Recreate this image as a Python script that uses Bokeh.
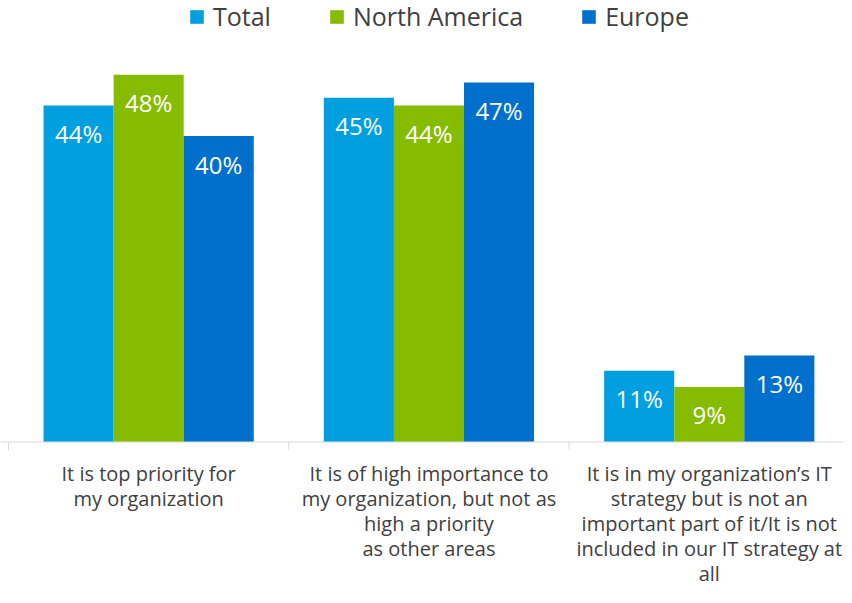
from bokeh.plotting import figure
from bokeh.models import ColumnDataSource, Legend, LegendItem, Range1d, Span
from bokeh.transform import dodge
from bokeh.core.properties import value
from bokeh.embed import file_html
from bokeh.resources import INLINE

# ---- data ----
categories = [
    ["It is top priority for", "my organization"],
    ["It is of high importance to", "my organization, but not as", "high a priority", "as other areas"],
    ["It is in my organization\u2019s IT", "strategy but is not an", "important part of it/It is not",
     "included in our IT strategy at", "all"],
]
series = ["Total", "North America", "Europe"]
total = [44, 45, 9.3]
north_america = [48, 44, 7.2]
europe = [40, 47, 11.3]
total_labels = ["44%", "45%", "11%"]
north_america_labels = ["48%", "44%", "9%"]
europe_labels = ["40%", "47%", "13%"]
category_ticks = [0, 1, 2, 3]
colors = ["#009FDF", "#86BC00", "#0070CC"]

FONT = "Open Sans"
TXT = "#404040"

W, H = 844, 587
PX_X = 280.3          # px per category
PX_Y = 7.65           # px per percent
AXIS_X0 = 8           # px of first category boundary
AXIS_Y = 441.5        # px from top of figure

xc = [i + 0.5 for i in range(len(categories))]

p = figure(width=W, height=H, output_backend="svg", toolbar_location=None,
           x_range=Range1d(-AXIS_X0 / PX_X, (W - AXIS_X0) / PX_X),
           y_range=Range1d(-(H - AXIS_Y) / PX_Y, AXIS_Y / PX_Y),
           min_border_left=0, min_border_right=0, min_border_top=0, min_border_bottom=0)
p.outline_line_color = None
p.xgrid.visible = False
p.ygrid.visible = False
p.xaxis.visible = False
p.yaxis.visible = False
p.background_fill_color = "white"
p.border_fill_color = "white"

renderers = []
offsets = [-0.25, 0.0, 0.25]
for name, vals, labs, col, off in zip(series, [total, north_america, europe],
                                      [total_labels, north_america_labels, europe_labels],
                                      colors, offsets):
    src = ColumnDataSource(dict(x=xc, top=vals, lab=labs))
    r = p.vbar(x=dodge("x", off, range=p.x_range), top="top", bottom=0, width=0.25, source=src,
               fill_color=col, line_color=None)
    renderers.append(r)
    p.text(x=dodge("x", off, range=p.x_range), y="top", text="lab", source=src,
           text_color="white", text_font=value(FONT), text_font_size="24px",
           text_align="center", text_baseline="middle", y_offset=28)

# category axis line and tick marks
p.add_layout(Span(location=0, dimension="width", line_color="#D9D9D9", line_width=1))
p.segment(x0=category_ticks, x1=category_ticks, y0=[0] * 4, y1=[-8 / PX_Y] * 4,
          line_color="#D9D9D9", line_width=1)

# category labels below the axis
lx, ly, lt = [], [], []
for i, lines in enumerate(categories):
    for j, line in enumerate(lines):
        lx.append(xc[i])
        ly.append(-(31 + 25 * j) / PX_Y)
        lt.append(line)
p.text(x=lx, y=ly, text=lt, text_align="center", text_baseline="alphabetic",
       text_font=value(FONT), text_font_size="20px", text_color=TXT)

legend = Legend(items=[LegendItem(label=s, renderers=[r]) for s, r in zip(series, renderers)],
                orientation="horizontal", location=(188, H - 17 - 16), padding=0, margin=0,
                spacing=57, glyph_width=17, glyph_height=17, label_standoff=8,
                label_text_font=FONT, label_text_font_size="25px", label_text_color=TXT,
                border_line_color=None, background_fill_alpha=0)
p.add_layout(legend)

open("out.html", "w").write(file_html(p, INLINE))
